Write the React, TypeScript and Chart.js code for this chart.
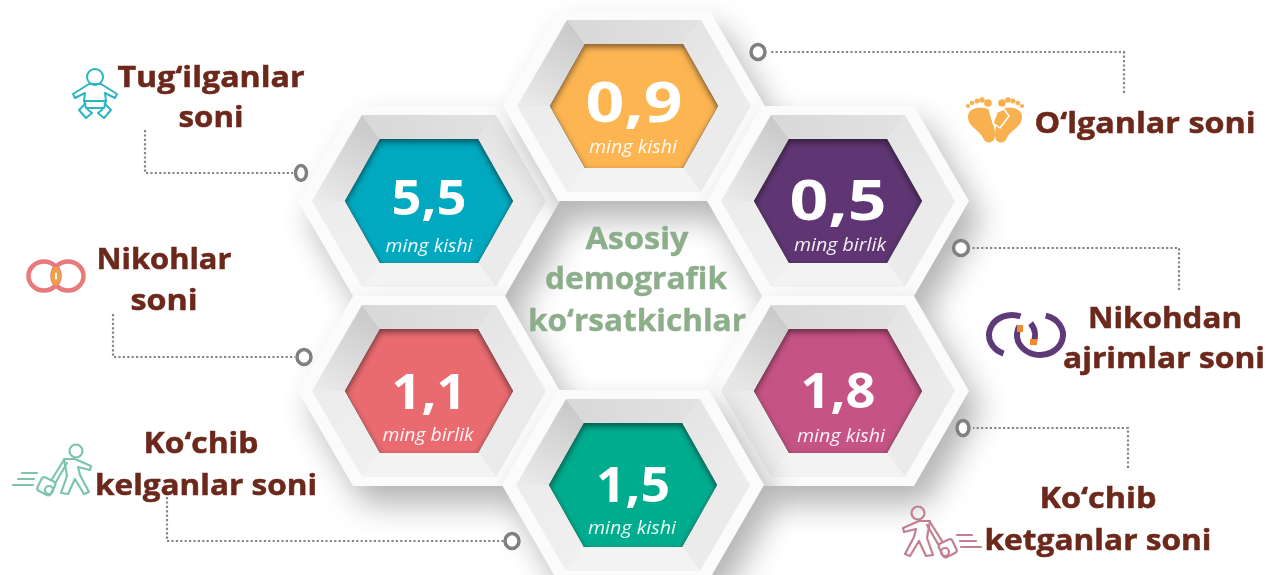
import React, { useEffect, useRef } from "react";
import { Chart, registerables } from "chart.js";

Chart.register(...registerables);

// ---- Data ----
const values = [5.5, 0.9, 0.5, 1.1, 1.8, 1.5];
const units = ["ming kishi", "ming kishi", "ming birlik", "ming birlik", "ming kishi", "ming kishi"];
const categories = [
  ["Tug‘ilganlar", "soni"],
  ["O‘lganlar soni"],
  ["Nikohdan", "ajrimlar soni"],
  ["Nikohlar", "soni"],
  ["Ko‘chib", "ketganlar soni"],
  ["Ko‘chib", "kelganlar soni"],
];
const centerTitle = ["Asosiy", "demografik", "ko‘rsatkichlar"];
const cellColors = ["#00A9BF", "#FDB552", "#5F3673", "#E96B70", "#C55385", "#00AC8E"];

// ---- Layout (pixel space of the hidden axes) ----
const W = 1269;
const H = 575;
const cellX = [429, 634, 838, 429, 838, 633];
const cellY = [201, 106, 201, 391, 391, 485];
const valueFont = [48, 56, 56, 48, 48, 48];
const valueW = [75, 97, 97, 75, 75, 74];
const valueBase = [215, 122, 220, 409, 408, 502];
const unitX = [429, 633, 840, 428, 841, 632];
const unitBase = [252, 153, 251, 441, 442, 534];
const unitW = [87, 88, 92, 91, 88, 88];
const labelX = [[211, 211], [1145], [1165, 1164], [164, 164], [1098, 1098], [201, 206]];
const labelBase = [[87, 127], [133], [328, 368], [269, 310], [508, 550], [453, 495]];
const labelW = [[187, 65], [221], [154, 202], [135, 67], [117, 227], [115, 222]];
const titleX = [637, 636, 637];
const titleBase = [249, 289, 331];
const titleW = [103, 182, 218];
const connectors: [number, number][][] = [
  [[145, 130], [145, 173], [293, 173]],
  [[1124, 93], [1124, 52], [769, 52]],
  [[1179, 290], [1179, 248], [972, 248]],
  [[113, 314], [113, 357], [295, 357]],
  [[1128, 468], [1128, 428], [973, 428]],
  [[167, 497], [167, 541], [504, 541]],
];
const ringX = [301, 758, 961, 304, 963, 512];
const ringY = [173, 52, 248, 357, 428, 541];
const ringRx = [5.5, 7, 7.5, 7, 6, 7];

const BROWN = "#6B281B";
const FONT = '"Open Sans"';

function hexPath(c: CanvasRenderingContext2D, cx: number, cy: number, hw: number, hh: number, tw: number) {
  c.beginPath();
  c.moveTo(cx - tw, cy - hh);
  c.lineTo(cx + tw, cy - hh);
  c.lineTo(cx + hw, cy);
  c.lineTo(cx + tw, cy + hh);
  c.lineTo(cx - tw, cy + hh);
  c.lineTo(cx - hw, cy);
  c.closePath();
}

function makeCell(color: string) {
  const cv = document.createElement("canvas");
  cv.width = 480;
  cv.height = 400;
  const c = cv.getContext("2d")!;
  const cx = 240;
  const cy = 200;
  // outer plate and its soft drop shadow, thrown to the lower right
  c.save();
  c.shadowColor = "rgba(0,0,0,0.30)";
  c.shadowBlur = 32;
  c.shadowOffsetX = 12;
  c.shadowOffsetY = 18;
  hexPath(c, cx, cy, 131, 95, 76);
  c.fillStyle = "#fbfbfb";
  c.fill();
  c.restore();
  // bevel facets
  const m = [[-67, -86], [67, -86], [117, 0], [67, 86], [-67, 86], [-117, 0]];
  const n = [[-49, -62], [49, -62], [84, 0], [49, 62], [-49, 62], [-84, 0]];
  const facetFrom = ["#d8d8d8", "#e4e4e4", "#ebebeb", "#f3f3f3", "#f0f0f0", "#ececec"];
  const facetTo = ["#e2e2e2", "#ededed", "#ebebeb", "#f3f3f3", "#ececec", "#c8c8c8"];
  for (let i = 0; i < 6; i++) {
    const j = (i + 1) % 6;
    c.beginPath();
    c.moveTo(cx + m[i][0], cy + m[i][1]);
    c.lineTo(cx + m[j][0], cy + m[j][1]);
    c.lineTo(cx + n[j][0], cy + n[j][1]);
    c.lineTo(cx + n[i][0], cy + n[i][1]);
    c.closePath();
    const g = c.createLinearGradient(cx + m[i][0], cy + m[i][1], cx + m[j][0], cy + m[j][1]);
    g.addColorStop(0, facetFrom[i]);
    g.addColorStop(1, facetTo[i]);
    c.fillStyle = g;
    c.fill();
  }
  // coloured hole with a shadow falling from its top edge
  hexPath(c, cx, cy, 84, 62, 49);
  c.fillStyle = color;
  c.fill();
  c.save();
  hexPath(c, cx, cy, 84, 62, 49);
  c.clip();
  c.shadowColor = "rgba(0,0,0,0.5)";
  c.shadowBlur = 6;
  c.shadowOffsetY = 3;
  c.beginPath();
  c.rect(0, -20, 480, 440);
  c.moveTo(cx - 49, cy - 62);
  c.lineTo(cx - 84, cy);
  c.lineTo(cx - 49, cy + 62);
  c.lineTo(cx + 49, cy + 62);
  c.lineTo(cx + 84, cy);
  c.lineTo(cx + 49, cy - 62);
  c.closePath();
  c.fillStyle = "#000";
  c.fill("evenodd");
  c.restore();
  return cv;
}

function makeRing(rx: number) {
  const cv = document.createElement("canvas");
  cv.width = 26;
  cv.height = 26;
  const c = cv.getContext("2d")!;
  c.beginPath();
  c.ellipse(13, 13, rx, 7.5, 0, 0, Math.PI * 2);
  c.fillStyle = "#fff";
  c.fill();
  c.lineWidth = 3.5;
  c.strokeStyle = "#808080";
  c.stroke();
  return cv;
}

function fitText(c: CanvasRenderingContext2D, s: string, x: number, y: number, w: number, bold = 0) {
  c.save();
  c.translate(x, y);
  c.scale(w / c.measureText(s).width, 1);
  c.textAlign = "center";
  c.textBaseline = "alphabetic";
  c.fillText(s, 0, 0);
  if (bold) {
    c.lineWidth = bold;
    c.strokeStyle = c.fillStyle;
    c.strokeText(s, 0, 0);
  }
  c.restore();
}

function poly(c: CanvasRenderingContext2D, pts: number[][], close = true) {
  c.beginPath();
  pts.forEach((p, i) => (i ? c.lineTo(p[0], p[1]) : c.moveTo(p[0], p[1])));
  if (close) c.closePath();
  c.stroke();
}

function babyIcon(c: CanvasRenderingContext2D, x: number, y: number) {
  c.save();
  c.translate(x, y);
  c.strokeStyle = "#2BB5C0";
  c.lineWidth = 2;
  c.lineJoin = "round";
  c.beginPath();
  c.arc(0, 0, 8, 0, Math.PI * 2);
  c.stroke();
  poly(c, [[-6, 7], [-22, 17], [-20, 21], [-10, 16], [-11, 24], [11, 24], [10, 16], [20, 21], [22, 17], [6, 7]]);
  poly(c, [[-11, 24], [-9, 31], [9, 31], [11, 24]]);
  poly(c, [[-9, 26], [-16, 33], [-9, 41], [-3, 36], [-8, 32]], false);
  poly(c, [[9, 26], [16, 33], [9, 41], [3, 36], [8, 32]], false);
  c.restore();
}

function ringsIcon(c: CanvasRenderingContext2D, x: number, y: number) {
  const draw = (col: string) => {
    c.strokeStyle = col;
    c.lineWidth = 4.5;
    c.beginPath();
    c.ellipse(x - 12, y, 15.5, 14.5, 0, 0, Math.PI * 2);
    c.stroke();
    c.beginPath();
    c.ellipse(x + 12, y, 15.5, 14.5, 0, 0, Math.PI * 2);
    c.stroke();
  };
  draw("#E87A7C");
  c.save();
  c.beginPath();
  c.ellipse(x - 12, y, 17, 14, 0, 0, Math.PI * 2);
  c.clip();
  c.beginPath();
  c.ellipse(x + 12, y, 17, 14, 0, 0, Math.PI * 2);
  c.clip();
  draw("#F0A23E");
  c.restore();
}

function feetIcon(c: CanvasRenderingContext2D, x: number, y: number) {
  c.save();
  c.translate(x, y);
  c.fillStyle = "#F9B04F";
  const foot = (dir: number) => {
    c.save();
    c.scale(dir, 1);
    c.beginPath();
    c.moveTo(6, -12);
    c.bezierCurveTo(14, -17, 28, -14, 27, -4);
    c.bezierCurveTo(26, 6, 15, 8, 12, 16);
    c.bezierCurveTo(9, 23, 0, 22, 0, 13);
    c.bezierCurveTo(0, 2, 5, -2, 6, -12);
    c.fill();
    const toes = [[7, -19, 3.8], [13, -22, 2.8], [18, -21, 2.5], [23, -19, 2.3], [27, -16, 2.1]];
    toes.forEach((t) => {
      c.beginPath();
      c.arc(t[0], t[1], t[2], 0, Math.PI * 2);
      c.fill();
    });
    c.restore();
  };
  foot(-1);
  foot(1);
  c.strokeStyle = "#fff";
  c.lineWidth = 1.5;
  c.fillStyle = "#F9B04F";
  c.beginPath();
  c.moveTo(9, -13);
  c.lineTo(14, -6);
  c.lineTo(5, 6);
  c.lineTo(-2, 1);
  c.lineTo(2, -10);
  c.closePath();
  c.fill();
  c.stroke();
  c.restore();
}

function brokenRingsIcon(c: CanvasRenderingContext2D, x: number, y: number) {
  c.save();
  c.translate(x, y);
  c.strokeStyle = "#5E3A78";
  c.lineWidth = 6;
  // left ring
  c.beginPath();
  c.ellipse(-14, 0, 23, 20, 0, Math.PI * 0.62, Math.PI * 1.62);
  c.stroke();
  c.beginPath();
  c.ellipse(-14, 0, 23, 20, 0, -Math.PI * 0.2, Math.PI * 0.15);
  c.stroke();
  // right ring
  c.beginPath();
  c.ellipse(14, 0, 23, 20, 0, -Math.PI * 0.42, Math.PI * 1.15);
  c.stroke();
  c.fillStyle = "#F08A2C";
  c.fillRect(-9, -10, 6, 7);
  c.fillRect(4, 4, 7, 6);
  c.restore();
}

function walkerIcon(c: CanvasRenderingContext2D, x: number, y: number, dir: number, col: string) {
  c.save();
  c.translate(x, y);
  c.scale(dir, 1);
  c.strokeStyle = col;
  c.lineWidth = 2.2;
  c.lineJoin = "round";
  c.lineCap = "round";
  c.beginPath();
  c.arc(0, 0, 6.5, 0, Math.PI * 2);
  c.stroke();
  poly(c, [[-12, 8], [-1, 8], [15, 15], [14, 19], [2, 16], [4, 24], [13, 41], [8, 43], [-1, 28], [-8, 43], [-15, 42], [-9, 25]]);
  poly(c, [[-12, 9], [-24, 28]], false);
  poly(c, [[-9, 12], [-20, 31]], false);
  c.save();
  c.translate(-29, 35);
  c.rotate(0.45);
  c.beginPath();
  c.roundRect(-8, -7, 15, 15, 3);
  c.stroke();
  c.restore();
  c.beginPath();
  c.arc(-27, 39, 4, 0, Math.PI * 2);
  c.stroke();
  poly(c, [[-54, 22], [-39, 22]], false);
  poly(c, [[-58, 28], [-42, 28]], false);
  poly(c, [[-63, 34], [-43, 34]], false);
  c.restore();
}

const overlay = {
  id: "overlay",
  afterDatasetsDraw(chart: any) {
    const c: CanvasRenderingContext2D = chart.ctx;
    const sx = chart.scales.x;
    const sy = chart.scales.y;
    const X = (v: number) => sx.getPixelForValue(v);
    const Y = (v: number) => sy.getPixelForValue(v);
    c.save();
    // values and units inside the cells
    values.forEach((v, i) => {
      c.fillStyle = "#ffffff";
      c.font = `bold ${valueFont[i]}px ${FONT}`;
      fitText(c, v.toFixed(1).replace(".", ","), X(cellX[i]), Y(valueBase[i]), valueW[i]);
      c.fillStyle = "rgba(255,255,255,0.92)";
      c.font = `italic 18px ${FONT}`;
      fitText(c, units[i], X(unitX[i]), Y(unitBase[i]), unitW[i]);
    });
    // central title
    c.fillStyle = "#8DAE8B";
    c.font = `bold 30px ${FONT}`;
    centerTitle.forEach((s, i) => fitText(c, s, X(titleX[i]), Y(titleBase[i]), titleW[i], 0.4));
    // labels
    c.fillStyle = BROWN;
    c.font = `bold 29px ${FONT}`;
    categories.forEach((lines, i) =>
      lines.forEach((s, j) => fitText(c, s, X(labelX[i][j]), Y(labelBase[i][j]), labelW[i][j], 0.5))
    );
    // icons
    babyIcon(c, X(95), Y(77));
    ringsIcon(c, X(56), Y(276));
    feetIcon(c, X(995), Y(122));
    brokenRingsIcon(c, X(1026), Y(335));
    walkerIcon(c, X(76), Y(451), 1, "#7CC5AC");
    walkerIcon(c, X(918), Y(513), -1, "#C27F90");
    c.restore();
  },
};

export default function App() {
  const ref = useRef<HTMLCanvasElement>(null);
  useEffect(() => {
    document.body.style.margin = "0";
    document.body.style.background = "#fff";
    const cellImages = cellColors.map(makeCell);
    const ringImages = ringRx.map(makeRing);
    const chart = new Chart(ref.current!, {
      type: "scatter",
      data: {
        datasets: [
          {
            label: "cells",
            order: 10,
            data: values.map((_, i) => ({ x: cellX[i], y: cellY[i] })),
            pointStyle: cellImages as any,
            pointRadius: 10,
            clip: false as any,
          },
          ...connectors.map((pts, i) => ({
            label: `connector ${i}`,
            order: 5,
            showLine: true,
            data: pts.map((p) => ({ x: p[0], y: p[1] })),
            borderColor: "#858585",
            borderWidth: 2.2,
            borderDash: [2.2, 2.2],
            pointRadius: 0,
          })),
          {
            label: "rings",
            order: 1,
            data: ringX.map((x, i) => ({ x, y: ringY[i] })),
            pointStyle: ringImages as any,
            pointRadius: 10,
          },
        ],
      },
      options: {
        animation: false,
        responsive: false,
        events: [],
        layout: { padding: 0, autoPadding: false },
        plugins: { legend: { display: false }, tooltip: { enabled: false } },
        scales: {
          x: { type: "linear", min: 0, max: W, display: false },
          y: { type: "linear", min: 0, max: H, reverse: true, display: false },
        },
      },
      plugins: [overlay],
    });
    return () => chart.destroy();
  }, []);
  return <canvas ref={ref} width={W} height={H} style={{ display: "block" }} />;
}
